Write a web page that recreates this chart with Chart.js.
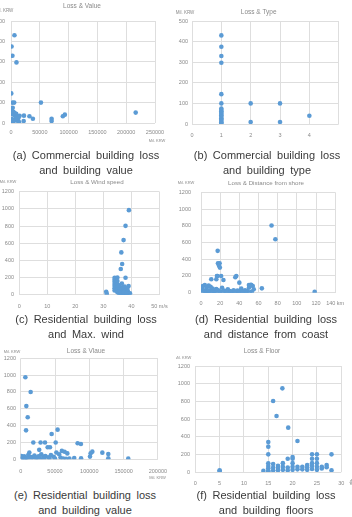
<!DOCTYPE html>
<html>
<head>
<meta charset="utf-8">
<script src="https://cdn.jsdelivr.net/npm/chart.js@4.4.1/dist/chart.umd.min.js"></script>
<style>
  html, body { margin: 0; padding: 0; background: #fff; }
  body { width: 352px; height: 517px; position: relative; overflow: hidden; }
  canvas { position: absolute; }
  .cap {
    position: absolute; width: 180px; text-align: center;
    font-family: "Liberation Sans", "DejaVu Sans", sans-serif;
    font-size: 11px; line-height: 15px; color: #3a3a3a; word-spacing: 2.5px;
  }
</style>
</head>
<body>
<canvas id="pa"></canvas>
<canvas id="pb"></canvas>
<canvas id="pc"></canvas>
<canvas id="pd"></canvas>
<canvas id="pe"></canvas>
<canvas id="pf"></canvas>

<div class="cap" style="left:-4px; top:148px">(a) Commercial building loss<br>and building value</div>
<div class="cap" style="left:177px; top:148px">(b) Commercial building loss<br>and building type</div>
<div class="cap" style="left:-4px; top:312px">(c) Residential building loss<br>and Max. wind</div>
<div class="cap" style="left:176px; top:312px">(d) Residential building loss<br>and distance from coast</div>
<div class="cap" style="left:-5px; top:488px">(e) Residential building loss<br>and building value</div>
<div class="cap" style="left:176px; top:488px">(f) Residential building loss<br>and building floors</div>

<script>
// (a) commercial: building value vs loss
const aValue = [6000, 1000, 2500, 9500, 500, 2500, 5500, 52000,
  800, 1500, 3000, 4000, 6000, 2000, 5000, 7000, 9000, 11000, 13000, 1000, 3000, 8000, 12000, 15000, 500, 2000, 4000, 6500, 10000, 14000,
  22500, 22000, 32000, 38000, 70500, 70500, 90000, 93500, 216500];
const aLoss = [430, 375, 330, 297, 145, 100, 100, 100,
  70, 60, 75, 55, 50, 45, 40, 35, 45, 30, 25, 20, 15, 20, 10, 35, 5, 10, 8, 12, 15, 5,
  36, 10, 33, 21, 21, 10, 33, 41, 51];

// (b) commercial: building type vs loss
const bType = [1, 1, 1, 1, 1, 1, 1, 1, 1, 1, 1, 1, 1, 1, 1, 1, 1, 1, 2, 2, 3, 3, 4];
const bLoss = [430, 375, 330, 297, 145, 100, 75, 68, 62, 55, 48, 42, 35, 28, 22, 15, 8, 3, 100, 10, 100, 10, 40];

// (c) residential: max wind vs loss
const cWind = [39.1, 37.9, 37.2, 36.4, 36.7, 36.2, 37.9, 31, 31.2,
  34, 34, 34, 34, 34, 34, 34, 35, 35, 35, 35, 35, 35,
  35.5, 36, 36.5, 37, 37.5, 38, 38.5, 39, 39.5,
  35.8, 36.3, 36.8, 37.3, 37.8, 38.3, 38.8, 36, 37, 38, 39, 35.6, 36.6, 37.6, 38.6, 36.2, 37.2, 38.2];
const cLoss = [985, 802, 636, 493, 357, 299, 198, 35, 12,
  198, 175, 150, 125, 100, 75, 50, 200, 160, 120, 90, 60, 30,
  20, 15, 10, 8, 12, 18, 10, 5, 15,
  40, 50, 45, 60, 55, 40, 35, 80, 90, 70, 100, 110, 130, 95, 65, 25, 30, 20];

// (d) residential: distance from shore vs loss
const dDist = [17.4, 17.7, 19.4, 18.7, 19.7, 16.7, 17, 21, 10.7, 16, 23.4, 36.8, 35.8, 40, 52.5, 50, 63.5, 73.6, 77.6, 118.6,
  1, 2, 3, 4, 5, 6, 7, 8, 9, 10, 11, 12, 13, 14, 15, 16, 18, 20, 22, 24, 26, 28, 30, 32, 34, 36, 38, 40, 42, 44, 46, 48, 50, 52, 54, 55,
  2, 4, 6, 8, 12, 14, 19, 23, 27, 31, 35, 39, 43, 47, 51, 53];
const dLoss = [500, 352, 352, 324, 300, 200, 200, 200, 160, 160, 152, 200, 184, 120, 92, 92, 52, 804, 638, 12,
  40, 80, 30, 90, 20, 60, 10, 85, 25, 70, 15, 50, 35, 20, 8, 45, 30, 15, 60, 25, 10, 40, 20, 15, 30, 10, 25, 20, 50, 15, 30, 20, 60, 95, 80, 40,
  10, 15, 5, 20, 10, 5, 15, 8, 10, 5, 12, 5, 8, 10, 5, 12];

// (e) residential: building value vs loss
const eValue = [6800, 14500, 8200, 10200, 7800, 18400, 29000, 35400, 39300, 42700, 45100, 53800, 51000, 27000, 12600, 83000, 87800, 102000, 104400, 119000, 127700, 127700, 156800, 88000, 71000, 101000,
  1000, 3000, 5000, 8000, 11000, 14000, 17000, 20000, 23000, 26000, 30000, 33000, 36000, 40000, 44000, 48000, 52000, 56000, 60000, 64000, 68000,
  2000, 6000, 9000, 15000, 22000, 28000, 34000, 42000, 50000, 58000, 62000, 66000, 78000];
const eLoss = [975, 800, 632, 500, 344, 200, 200, 200, 144, 144, 300, 352, 200, 112, 80, 190, 182, 71, 91, 79, 63, 12, 8, 12, 8, 32,
  40, 20, 35, 15, 50, 30, 25, 45, 20, 35, 60, 30, 40, 25, 50, 30, 80, 60, 100, 90, 70,
  10, 5, 8, 12, 5, 10, 5, 15, 10, 20, 8, 5, 15];

// (f) residential: floors vs loss
const fFloor = [5, 5, 14, 15, 15, 15, 15, 15, 15, 15, 15, 16, 16, 16, 16, 16.7, 17, 17, 17, 17.9, 18, 18, 18, 19.1, 19, 19, 19,
  20, 20, 20, 20, 20, 21, 21, 21, 22, 22, 23, 23, 23, 24, 24, 24, 24, 24, 25, 25, 25, 25, 25, 26, 26, 27, 27, 28, 28];
const fLoss = [10, 20, 15, 340, 287, 200, 98, 68, 42, 15, 5, 804, 90, 50, 20, 634, 70, 45, 20, 947, 100, 60, 25, 502, 150, 50, 20,
  170, 150, 100, 60, 25, 351, 60, 30, 60, 30, 80, 55, 25, 200, 150, 100, 70, 35, 200, 150, 100, 60, 25, 60, 40, 80, 55, 200, 20];

const BLUE = "#5b9bd5";
const GRID = "#dedede";
const TICK = "#8a8a8a";
const FONT = '"Liberation Sans Narrow", "Liberation Sans", sans-serif';

// small canvas texts: chart title and axis units
function textPlugin(items) {
  return {
    id: "panelText",
    afterDraw(chart) {
      const ctx = chart.ctx;
      items.forEach((t) => {
        ctx.save();
        ctx.font = t.size + "px " + FONT;
        ctx.fillStyle = TICK;
        ctx.textAlign = t.align || "center";
        ctx.textBaseline = "middle";
        ctx.fillText(t.text, t.x, t.y);
        ctx.restore();
      });
    },
  };
}

function panel(id, p) {
  const cv = document.getElementById(id);
  cv.width = p.w;
  cv.height = p.h;
  cv.style.left = p.left + "px";
  cv.style.top = p.top + "px";
  const pts = p.xs.map((x, i) => ({ x, y: p.ys[i] }));
  new Chart(cv, {
    type: "scatter",
    data: { datasets: [{ data: pts, backgroundColor: BLUE, borderWidth: 0, pointRadius: 2.3 }] },
    options: {
      responsive: false,
      animation: false,
      layout: { padding: p.pad },
      plugins: { legend: { display: false }, tooltip: { enabled: false } },
      scales: {
        x: {
          type: "linear",
          min: p.x[0], max: p.x[1],
          afterFit: (s) => { s.height = p.xh; },
          grid: { color: GRID, drawTicks: false },
          border: { display: false },
          ticks: {
            stepSize: p.x[2], padding: p.xpad, maxRotation: 0, autoSkip: false,
            color: TICK, font: { family: FONT, size: 5.5 },
            callback: p.xlab || ((v) => String(v)),
          },
        },
        y: {
          min: 0, max: p.ymax,
          afterFit: (s) => { s.width = p.yw; },
          grid: { color: GRID, drawTicks: false },
          border: { display: false },
          ticks: {
            stepSize: p.ymax / (p.ymax > 500 ? 6 : 5), padding: p.ypad,
            color: TICK, font: { family: FONT, size: 5.5 },
            callback: (v) => String(v),
          },
        },
      },
    },
    plugins: [textPlugin(p.texts)],
  });
}

panel("pa", {
  left: -14, top: 0, w: 190, h: 146, xs: aValue, ys: aLoss,
  x: [0, 250000, 50000], ymax: 500,
  pad: { left: 0, right: 21, top: 21, bottom: 6 }, yw: 25, xh: 17, xpad: 6.5, ypad: 6,
  texts: [
    { text: "Loss & Value", x: 96, y: 6, size: 6.5 },
    { text: "Mil. KRW", x: 18, y: 11, size: 4.5 },
    { text: "Mil. KRW", x: 171, y: 141, size: 4 },
  ],
});

panel("pb", {
  left: 176, top: 0, w: 176, h: 146, xs: bType, ys: bLoss,
  x: [0, 5, 1], ymax: 500, xlab: (v) => (v === 5 ? "" : String(v)),
  pad: { left: 0, right: 13.3, top: 21, bottom: 4 }, yw: 16, xh: 18, xpad: 8.5, ypad: 4,
  texts: [
    { text: "Loss & Type", x: 82.7, y: 12.7, size: 6.5 },
    { text: "Mil. KRW", x: 9, y: 13, size: 4.5 },
  ],
});

panel("pc", {
  left: 0, top: 175, w: 176, h: 140, xs: cWind, ys: cLoss,
  x: [0, 50, 10], ymax: 1200, xlab: (v) => (v === 50 ? "50 m/s" : String(v)),
  pad: { left: 0, right: 12.7, top: 16.7, bottom: 2.3 }, yw: 19.3, xh: 18, xpad: 8.3, ypad: 5.3,
  texts: [
    { text: "Loss & Wind speed", x: 97, y: 7.3, size: 6.2 },
    { text: "Mil. KRW", x: 8, y: 7, size: 4 },
  ],
});

panel("pd", {
  left: 176, top: 175, w: 176, h: 140, xs: dDist, ys: dLoss,
  x: [0, 140, 20], ymax: 1200, xlab: (v) => (v === 140 ? "140 km" : String(v)),
  pad: { left: 0, right: 12, top: 17.3, bottom: 4.3 }, yw: 25, xh: 18, xpad: 7.8, ypad: 10,
  texts: [
    { text: "Loss & Distance from shore", x: 90, y: 8.7, size: 6.2 },
    { text: "Mil. KRW", x: 10, y: 8, size: 4 },
  ],
});

panel("pe", {
  left: 0, top: 340, w: 176, h: 145, xs: eValue, ys: eLoss,
  x: [0, 200000, 50000], ymax: 1200,
  pad: { left: 0, right: 18.1, top: 18.3, bottom: 5.7 }, yw: 20.7, xh: 20, xpad: 8.4, ypad: 4.7,
  texts: [
    { text: "Loss & Vlaue", x: 86, y: 11.7, size: 6.5 },
    { text: "Mil. KRW", x: 12, y: 11.7, size: 4 },
    { text: "Mil. KRW", x: 157.5, y: 137.7, size: 4 },
  ],
});

panel("pf", {
  left: 176, top: 340, w: 176, h: 150, xs: fFloor, ys: fLoss,
  x: [0, 30, 5], ymax: 1200,
  pad: { left: 0, right: 6, top: 26, bottom: 2 }, yw: 19.3, xh: 16, xpad: 7.7, ypad: 5.3,
  texts: [
    { text: "Loss & Floor", x: 86, y: 11.7, size: 6.5 },
    { text: "Mil. KRW", x: 7, y: 17.7, size: 4 },
    { text: "층", x: 173, y: 142.7, size: 6, align: "left" },
  ],
});
</script>
</body>
</html>
